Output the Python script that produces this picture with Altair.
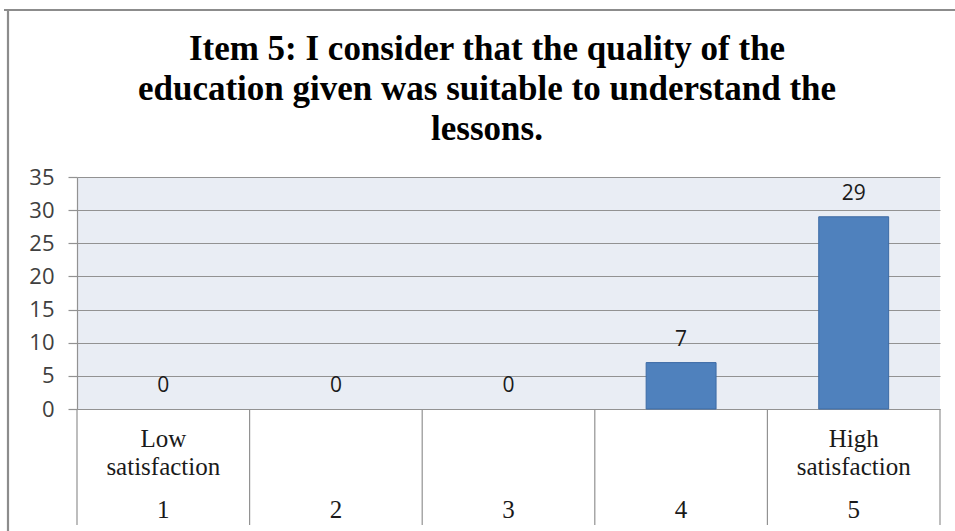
import altair as alt
import pandas as pd

categories = ["1", "2", "3", "4", "5"]
counts = [0, 0, 0, 7, 29]
descriptions = ["Low\nsatisfaction", "", "", "", "High\nsatisfaction"]
y_ticks = [0, 5, 10, 15, 20, 25, 30, 35]
title_lines = ["Item 5: I consider that the quality of the",
               "education given was suitable to understand the",
               "lessons."]

df = pd.DataFrame({"cat": categories, "count": counts, "desc": descriptions})

W, H = 863, 232
TABLE_BOTTOM = 348
GRID = "#929292"

xs = alt.X("cat:O", scale=alt.Scale(domain=categories, paddingInner=0, paddingOuter=0),
           axis=None)
ys = alt.Y("count:Q", scale=alt.Scale(domain=[0, 35], nice=False),
           axis=alt.Axis(values=y_ticks, grid=True, gridColor=GRID, gridWidth=1.2,
                         tickColor=GRID, tickSize=9, tickWidth=1.2, labelOverlap=False,
                         domain=True, domainColor=GRID, domainWidth=1.2,
                         labelFont="Open Sans", labelFontSize=22, labelColor="#404040",
                         labelPadding=14, title=None))

base = alt.Chart(df)

bars = base.transform_filter("datum.count > 0").mark_bar(
    width=alt.RelativeBandSize(0.405), color="#4F81BD",
    stroke="#3C6BA5", strokeWidth=1).encode(x=xs, y=ys)

labels = base.mark_text(font="Open Sans", fontSize=21, color="#1a1a1a",
                        baseline="middle", dy=-23).encode(
    x=xs, y=ys, text=alt.Text("count:Q"))

seps = base.mark_rule(color=GRID, strokeWidth=1.2).encode(
    x=alt.X("cat:O", bandPosition=0), y=alt.value(H), y2=alt.value(TABLE_BOTTOM))
last_sep = alt.Chart(pd.DataFrame({"cat": [categories[-1]]})).mark_rule(
    color=GRID, strokeWidth=1.2).encode(
    x=alt.X("cat:O", bandPosition=1), y=alt.value(H), y2=alt.value(TABLE_BOTTOM))

desc_text = base.mark_text(font="Liberation Serif", fontSize=25, color="#1a1a1a",
                           lineBreak="\n", lineHeight=28, baseline="alphabetic").encode(
    x=alt.X("cat:O"), y=alt.value(270), text="desc:N")

num_text = base.mark_text(font="Liberation Serif", fontSize=25, color="#1a1a1a",
                          baseline="alphabetic").encode(
    x=alt.X("cat:O"), y=alt.value(341), text="cat:N")

title_df = pd.DataFrame({"t": ["\n".join(title_lines)]})
title_text = alt.Chart(title_df).mark_text(
    font="Liberation Serif", fontSize=35, fontWeight="bold", color="#000000",
    lineBreak="\n", lineHeight=40, baseline="alphabetic", align="center").encode(
    x=alt.value(410), y=alt.value(-117), text="t:N")

frame_left = alt.Chart(pd.DataFrame({"a": [0]})).mark_rule(
    color="#8c8c8c", strokeWidth=2.2).encode(
    x=alt.value(-69), y=alt.value(-167), y2=alt.value(360))
frame_top = alt.Chart(pd.DataFrame({"a": [0]})).mark_rule(
    color="#8c8c8c", strokeWidth=2.2).encode(
    x=alt.value(-73), x2=alt.value(900), y=alt.value(-167))

chart = alt.layer(bars, labels, seps, last_sep, desc_text, num_text, title_text,
                  frame_left, frame_top).properties(
    width=W, height=H, background="white",
    padding={"left": 77, "top": 177, "right": 15, "bottom": 122},
    autosize=alt.AutoSizeParams(type="none"),
).configure_view(fill="#E9EDF4", strokeWidth=0)

chart.save("out.html", embed_options={"renderer": "svg", "actions": False})
